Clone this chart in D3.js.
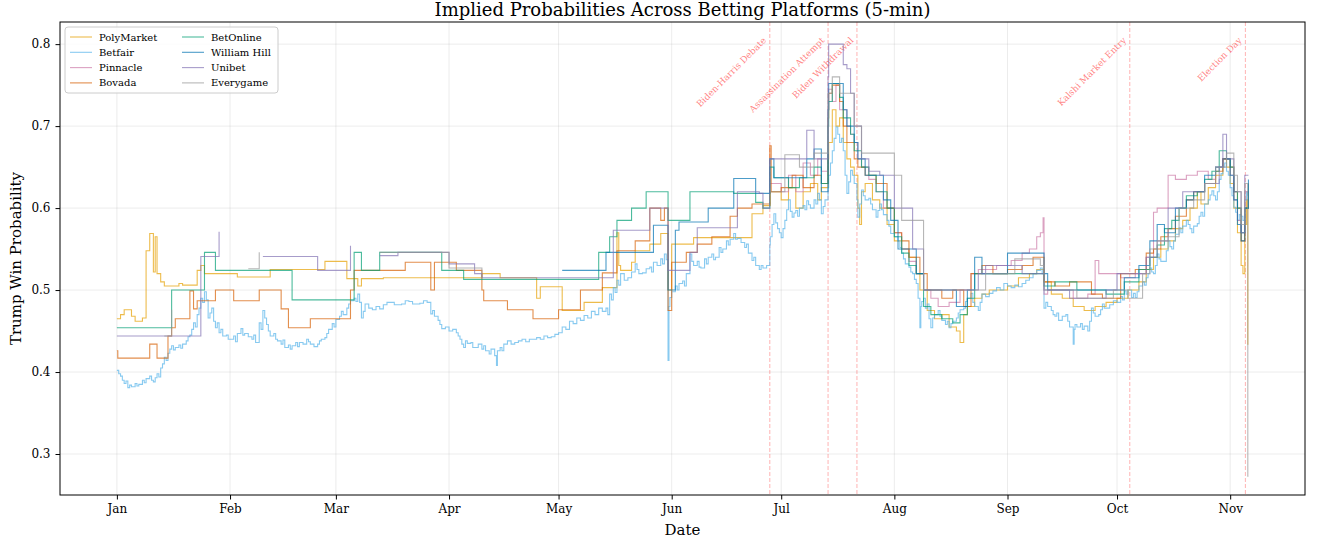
<!DOCTYPE html>
<meta charset="utf-8">
<style>
body { margin: 0; background: #fff; }
text { font-family: "DejaVu Serif", serif; }
.grid line { stroke: #b0b0b0; stroke-opacity: 0.3; stroke-width: 0.8px; }
.axis path, .axis line { stroke: #000; }
</style>
<svg width="1318" height="544"></svg>
<script src="https://d3js.org/d3.v7.min.js"></script>
<script>

var svg = d3.select("svg"),
    width = +svg.attr("width"),
    height = +svg.attr("height");

var margin = {top: 22, right: 13, bottom: 49, left: 60};
var w = width - margin.left - margin.right,
    h = height - margin.top - margin.bottom;

// platforms in legend order
var platforms = ["PolyMarket", "Betfair", "Pinnacle", "Bovada", "BetOnline", "William Hill", "Unibet", "Everygame"];
var colors = ["#E69F00", "#56B4E9", "#CC79A7", "#D55E00", "#009E73", "#0072B2", "#8172B3", "#999999"];

var events = ["Biden-Harris Debate", "Assassination Attempt", "Biden Withdrawal", "Kalshi Market Entry", "Election Day"];
var eventDates = ["06-27T21", "07-13T20", "07-21T18", "10-04T12", "11-05T04"];

var yTicks = [0.3, 0.4, 0.5, 0.6, 0.7, 0.8];

// [date (2024), implied probability]; null = no quote
var polymarket = [["01-01",0.465],["01-02",0.47],["01-03",0.476],["01-05",0.468],["01-06",0.462],["01-08",0.466],["01-09",0.548],["01-10",0.569],["01-11",0.522],["01-11T12",0.565],["01-12",0.52],["01-13",0.51],["01-14",0.505],["01-18",0.508],["01-19",0.506],["01-23",0.524],["01-24",0.53],["01-25",0.52],["02-03",0.516],["02-12",0.525],["02-27",0.535],["03-04",0.514],["03-07",0.505],["03-08",0.514],["03-14",0.515],["04-10",0.52],["04-15",0.515],["04-25",0.49],["04-26",0.504],["05-02",0.475],["05-08",0.485],["05-13",0.503],["05-17",0.57],["05-17T12",0.53],["05-18",0.524],["05-21",0.534],["05-22",0.548],["05-26",0.556],["05-29",0.569],["05-31",0.50],["06-01",0.556],["06-07",0.564],["06-23",0.593],["06-26",0.603],["06-28",0.62],["07-01",0.61],["07-03",0.625],["07-05",0.60],["07-07",0.62],["07-09",0.63],["07-11",0.61],["07-12",0.625],["07-13T20",0.66],["07-14",0.68],["07-15",0.72],["07-16",0.70],["07-17",0.71],["07-18",0.68],["07-19",0.66],["07-20",0.65],["07-21",0.64],["07-22",0.60],["07-22T12",0.58],["07-23",0.62],["07-24",0.63],["07-26",0.61],["07-28",0.60],["07-30",0.58],["08-01",0.56],["08-03",0.55],["08-05",0.54],["08-07",0.52],["08-08",0.50],["08-10",0.475],["08-12",0.465],["08-14",0.47],["08-16",0.455],["08-18",0.45],["08-19",0.436],["08-20",0.47],["08-21",0.48],["08-23",0.49],["08-25",0.495],["08-27",0.50],["09-01",0.505],["09-04",0.515],["09-07",0.52],["09-09",0.525],["09-11",0.51],["09-13",0.495],["09-16",0.49],["09-19",0.48],["09-22",0.475],["09-25",0.48],["09-28",0.485],["10-01",0.49],["10-04",0.50],["10-07",0.51],["10-09",0.525],["10-11",0.54],["10-13",0.55],["10-15",0.56],["10-17",0.575],["10-19",0.585],["10-21",0.60],["10-23",0.62],["10-24",0.605],["10-26",0.625],["10-28",0.64],["10-30",0.66],["10-31",0.65],["11-01",0.63],["11-02",0.60],["11-03",0.57],["11-04",0.53],["11-04T12",0.52],["11-05",0.58],["11-05T12",0.61],["11-05T20",0.434],["11-06",0.434]];

var betfair = [["01-01",0.402],["01-01T12",0.398],["01-02",0.395],["01-02T12",0.39],["01-03",0.386],["01-03T12",0.389],["01-04",0.381],["01-04T12",0.384],["01-05",0.382],["01-06",0.386],["01-06T12",0.383],["01-07",0.385],["01-08",0.39],["01-08T12",0.387],["01-09",0.392],["01-10",0.395],["01-10T12",0.39],["01-11",0.388],["01-11T12",0.393],["01-12",0.398],["01-12T12",0.394],["01-13",0.405],["01-13T12",0.41],["01-14",0.418],["01-14T12",0.414],["01-15",0.423],["01-15T12",0.428],["01-16",0.432],["01-16T12",0.427],["01-17",0.43],["01-18",0.433],["01-18T12",0.429],["01-19",0.434],["01-20",0.438],["01-20T12",0.443],["01-21",0.445],["01-21T12",0.452],["01-22",0.46],["01-22T12",0.455],["01-23",0.47],["01-23T12",0.478],["01-24",0.49],["01-24T12",0.485],["01-25",0.498],["01-25T12",0.488],["01-26",0.466],["01-26T12",0.472],["01-27",0.478],["01-27T12",0.462],["01-28",0.454],["01-28T12",0.46],["01-29",0.448],["01-29T12",0.452],["01-30",0.444],["01-31",0.445],["01-31T12",0.44],["02-01",0.44],["02-02",0.444],["02-02T12",0.437],["02-03",0.447],["02-04",0.453],["02-04T12",0.445],["02-05",0.447],["02-06",0.443],["02-07",0.44],["02-07T12",0.445],["02-08",0.436],["02-09",0.46],["02-09T12",0.452],["02-10",0.475],["02-10T12",0.466],["02-11",0.458],["02-11T12",0.45],["02-12",0.444],["02-13",0.447],["02-13T12",0.44],["02-14",0.438],["02-15",0.434],["02-15T12",0.439],["02-16",0.43],["02-17",0.433],["02-17T12",0.428],["02-18",0.432],["02-19",0.436],["02-19T12",0.431],["02-20",0.436],["02-21",0.434],["02-22",0.44],["02-22T12",0.437],["02-23",0.434],["02-24",0.431],["02-25",0.434],["02-25T12",0.438],["02-26",0.44],["02-27",0.442],["02-27T12",0.447],["02-28",0.452],["02-29",0.459],["02-29T12",0.455],["03-01",0.464],["03-02",0.468],["03-02T12",0.474],["03-03",0.47],["03-04",0.478],["03-04T12",0.483],["03-05",0.487],["03-06",0.49],["03-06T12",0.486],["03-07",0.495],["03-07T12",0.485],["03-08",0.466],["03-08T12",0.474],["03-09",0.483],["03-10",0.478],["03-11",0.476],["03-12",0.48],["03-13",0.477],["03-14",0.482],["03-15",0.485],["03-16",0.485],["03-17",0.482],["03-19",0.483],["03-20",0.487],["03-21",0.486],["03-22",0.483],["03-24",0.484],["03-25",0.487],["03-26",0.485],["03-27",0.471],["03-27T12",0.475],["03-28",0.468],["03-29",0.463],["03-29T12",0.458],["03-30",0.453],["03-31",0.455],["04-01",0.45],["04-02",0.452],["04-03",0.448],["04-03T12",0.444],["04-04",0.44],["04-04T12",0.434],["04-05",0.43],["04-05T12",0.438],["04-06",0.435],["04-07",0.436],["04-07T12",0.43],["04-08",0.43],["04-09",0.434],["04-10",0.428],["04-10T12",0.432],["04-11",0.426],["04-12",0.422],["04-12T12",0.428],["04-13",0.428],["04-13T12",0.42],["04-14",0.408],["04-14T06",0.426],["04-15",0.43],["04-15T12",0.426],["04-16",0.434],["04-17",0.438],["04-18",0.434],["04-19",0.436],["04-20",0.438],["04-21",0.44],["04-22",0.437],["04-23",0.44],["04-25",0.442],["04-26",0.44],["04-27",0.444],["04-28",0.442],["04-29",0.443],["04-30",0.446],["05-01",0.448],["05-02",0.455],["05-03",0.452],["05-04",0.462],["05-05",0.459],["05-06",0.466],["05-07",0.463],["05-08",0.469],["05-09",0.466],["05-10",0.474],["05-11",0.47],["05-12",0.478],["05-13",0.474],["05-14",0.478],["05-14T12",0.47],["05-15",0.495],["05-15T12",0.488],["05-16",0.503],["05-16T12",0.497],["05-17",0.512],["05-17T12",0.506],["05-18",0.52],["05-19",0.512],["05-20",0.515],["05-21",0.522],["05-22",0.532],["05-22T12",0.525],["05-23",0.52],["05-24",0.521],["05-25",0.526],["05-26",0.528],["05-26T12",0.522],["05-27",0.534],["05-28",0.53],["05-29",0.538],["05-29T12",0.532],["05-30",0.544],["05-30T12",0.537],["05-31",0.414],["05-31T06",0.48],["05-31T12",0.491],["06-01",0.498],["06-02",0.505],["06-02T12",0.5],["06-03",0.508],["06-04",0.511],["06-04T12",0.505],["06-05",0.52],["06-06",0.544],["06-06T12",0.535],["06-07",0.53],["06-08",0.535],["06-08T12",0.528],["06-09",0.527],["06-10",0.538],["06-10T12",0.532],["06-11",0.54],["06-12",0.544],["06-12T12",0.537],["06-13",0.54],["06-14",0.552],["06-14T12",0.546],["06-15",0.55],["06-16",0.56],["06-16T12",0.555],["06-17",0.562],["06-18",0.569],["06-18T12",0.562],["06-19",0.563],["06-20",0.558],["06-21",0.552],["06-21T12",0.556],["06-22",0.545],["06-23",0.536],["06-23T12",0.54],["06-24",0.53],["06-25",0.525],["06-25T12",0.53],["06-26",0.527],["06-27",0.53],["06-27T21",0.555],["06-28",0.565],["06-28T12",0.58],["06-29",0.593],["06-29T12",0.582],["06-30",0.575],["06-30T12",0.57],["07-01",0.564],["07-01T12",0.575],["07-02",0.585],["07-02T12",0.598],["07-03",0.61],["07-03T12",0.596],["07-04",0.589],["07-04T12",0.594],["07-05",0.597],["07-05T12",0.59],["07-06",0.60],["07-07",0.603],["07-07T12",0.598],["07-08",0.609],["07-08T12",0.604],["07-09",0.60],["07-10",0.61],["07-10T12",0.605],["07-11",0.618],["07-11T12",0.61],["07-12",0.593],["07-12T12",0.602],["07-13",0.61],["07-13T20",0.625],["07-14",0.64],["07-14T12",0.655],["07-15",0.67],["07-15T12",0.685],["07-16",0.699],["07-16T12",0.69],["07-17",0.68],["07-17T12",0.685],["07-18",0.67],["07-18T12",0.64],["07-19",0.618],["07-19T12",0.632],["07-20",0.646],["07-20T12",0.64],["07-21",0.63],["07-21T18",0.61],["07-22",0.589],["07-22T12",0.605],["07-23",0.622],["07-23T12",0.615],["07-24",0.61],["07-25",0.612],["07-25T12",0.605],["07-26",0.598],["07-27",0.589],["07-27T12",0.597],["07-28",0.605],["07-28T12",0.598],["07-29",0.592],["07-30",0.585],["07-30T12",0.578],["07-31",0.569],["08-01",0.565],["08-02",0.56],["08-02T12",0.552],["08-03",0.545],["08-03T12",0.538],["08-04",0.532],["08-05",0.528],["08-05T12",0.522],["08-06",0.52],["08-06T12",0.513],["08-07",0.508],["08-07T12",0.49],["08-08",0.454],["08-08T06",0.48],["08-08T12",0.486],["08-09",0.49],["08-09T12",0.478],["08-10",0.483],["08-10T12",0.465],["08-11",0.454],["08-11T12",0.466],["08-12",0.47],["08-13",0.475],["08-13T12",0.468],["08-14",0.463],["08-15",0.458],["08-15T12",0.462],["08-16",0.454],["08-16T12",0.459],["08-17",0.462],["08-18",0.466],["08-18T12",0.472],["08-19",0.476],["08-20",0.478],["08-20T12",0.486],["08-21",0.49],["08-22",0.496],["08-22T12",0.485],["08-23",0.48],["08-24",0.475],["08-24T12",0.485],["08-25",0.495],["08-26",0.492],["08-27",0.496],["08-28",0.499],["08-29",0.503],["08-30",0.5],["08-31",0.508],["09-01",0.505],["09-02",0.503],["09-03",0.506],["09-04",0.504],["09-05",0.508],["09-06",0.512],["09-07",0.515],["09-08",0.52],["09-09",0.524],["09-10",0.527],["09-10T12",0.52],["09-11",0.478],["09-11T12",0.485],["09-12",0.48],["09-13",0.475],["09-13T12",0.47],["09-14",0.468],["09-14T12",0.472],["09-15",0.463],["09-16",0.468],["09-17",0.47],["09-17T12",0.462],["09-18",0.455],["09-19",0.434],["09-19T06",0.452],["09-19T12",0.458],["09-20",0.455],["09-21",0.459],["09-21T12",0.452],["09-22",0.456],["09-23",0.45],["09-23T12",0.462],["09-24",0.478],["09-24T12",0.472],["09-25",0.468],["09-26",0.47],["09-26T12",0.476],["09-27",0.483],["09-27T12",0.478],["09-28",0.478],["09-29",0.482],["09-30",0.487],["10-01",0.485],["10-02",0.492],["10-02T12",0.488],["10-03",0.499],["10-03T12",0.495],["10-04",0.5],["10-05",0.491],["10-05T12",0.496],["10-06",0.491],["10-06T12",0.498],["10-07",0.505],["10-08",0.51],["10-08T12",0.506],["10-09",0.515],["10-09T12",0.52],["10-10",0.527],["10-10T12",0.522],["10-11",0.52],["10-11T12",0.53],["10-12",0.544],["10-12T12",0.538],["10-13",0.535],["10-14",0.535],["10-14T12",0.548],["10-15",0.56],["10-15T12",0.553],["10-16",0.55],["10-16T12",0.56],["10-17",0.568],["10-18",0.576],["10-18T12",0.57],["10-19",0.578],["10-20",0.585],["10-20T12",0.58],["10-21",0.575],["10-21T12",0.57],["10-22",0.578],["10-23",0.581],["10-23T12",0.59],["10-24",0.595],["10-24T12",0.59],["10-25",0.605],["10-26",0.61],["10-26T12",0.616],["10-27",0.621],["10-27T12",0.615],["10-28",0.61],["10-28T12",0.62],["10-29",0.635],["10-29T12",0.642],["10-30",0.65],["10-30T12",0.655],["10-31",0.645],["10-31T12",0.64],["11-01",0.625],["11-01T12",0.615],["11-02",0.601],["11-02T12",0.595],["11-03",0.585],["11-03T12",0.592],["11-04",0.59],["11-04T12",0.585],["11-05",0.61],["11-05T12",0.62],["11-05T20",0.615]];

var pinnacle = [["06-28",0.63],["07-01",0.62],["07-03",0.64],["07-05",0.62],["07-07",0.655],["07-09",0.64],["07-11",0.66],["07-12",0.645],["07-13T20",0.72],["07-14",0.745],["07-15",0.73],["07-16",0.75],["07-17",0.72],["07-19",0.70],["07-20",0.69],["07-21",0.68],["07-22",0.66],["07-23",0.65],["07-25",0.635],["07-27",0.62],["07-29",0.60],["08-01",0.57],["08-03",0.55],["08-05",0.535],["08-07",0.52],["08-09",0.50],["08-11",0.49],["08-13",0.48],["08-16",0.485],["08-19",0.50],["08-22",0.52],["08-24",0.525],["08-29",0.53],["09-02",0.536],["09-05",0.545],["09-07",0.55],["09-09",0.565],["09-10",0.57],["09-10T18",0.588],["09-11",0.495],["09-12",0.50],["09-17",0.50],["09-19",0.49],["09-23",0.495],["09-25",0.536],["09-26",0.52],["10-02",0.515],["10-06",0.52],["10-09",0.54],["10-11",0.595],["10-12",0.60],["10-15",0.64],["10-17",0.635],["10-20",0.64],["10-23",0.645],["10-26",0.635],["10-28",0.65],["10-30",0.66],["11-01",0.64],["11-02",0.61],["11-03",0.585],["11-04",0.57],["11-05",0.62],["11-06",0.63]];

var bovada = [["01-01",0.426],["01-01T06",0.417],["01-10",0.434],["01-12",0.417],["01-15",0.444],["01-16",0.454],["01-17",0.465],["01-21",0.499],["01-22",0.477],["01-23",0.487],["01-28",0.50],["02-02",0.487],["02-09",0.50],["02-15",0.477],["02-17",0.454],["02-23",0.465],["03-05",0.50],["03-06",0.524],["03-20",0.534],["03-27",0.50],["03-28",0.534],["04-03",0.524],["04-10",0.50],["04-10T12",0.487],["04-17",0.476],["04-24",0.465],["05-01",0.476],["05-07",0.50],["05-13",0.521],["05-17",0.548],["05-22",0.56],["05-26",0.60],["05-29",0.585],["05-30",0.60],["05-31",0.475],["06-01",0.534],["06-05",0.546],["06-08",0.556],["06-12",0.565],["06-17",0.59],["06-19",0.60],["06-23",0.605],["06-27T21",0.676],["06-28T06",0.62],["07-01",0.625],["07-04",0.64],["07-07",0.625],["07-10",0.64],["07-12",0.63],["07-13T20",0.71],["07-14",0.74],["07-15",0.75],["07-17",0.73],["07-18",0.70],["07-19",0.68],["07-21",0.66],["07-22",0.65],["07-24",0.64],["07-27",0.63],["07-30",0.60],["08-01",0.57],["08-03",0.56],["08-05",0.54],["08-08",0.52],["08-10",0.50],["08-14",0.49],["08-17",0.50],["08-20",0.48],["08-22",0.52],["08-25",0.53],["08-28",0.52],["09-01",0.525],["09-05",0.53],["09-08",0.54],["09-11",0.51],["09-14",0.505],["09-18",0.51],["09-24",0.495],["09-27",0.49],["10-02",0.52],["10-06",0.525],["10-09",0.545],["10-11",0.55],["10-13",0.565],["10-15",0.575],["10-17",0.59],["10-20",0.61],["10-22",0.62],["10-25",0.63],["10-28",0.645],["10-30",0.66],["11-01",0.65],["11-02",0.62],["11-03",0.60],["11-04",0.56],["11-05",0.60],["11-06",0.62]];

var betonline = [["01-01",0.454],["01-16",0.50],["01-25",0.546],["01-28",0.524],["02-18",0.488],["03-06",0.546],["03-08",0.524],["03-13",0.546],["03-30",0.524],["04-05",0.513],["05-12",0.546],["05-15",0.565],["05-17",0.585],["05-21",0.60],["05-25",0.62],["05-31",0.585],["06-06",0.62],["06-18",0.618],["06-24",0.607],["06-26",0.60],["06-27T21",0.65],["06-29",0.637],["07-03",0.625],["07-06",0.637],["07-10",0.65],["07-12",0.63],["07-13T20",0.70],["07-14",0.73],["07-15",0.752],["07-17",0.735],["07-18",0.71],["07-20",0.69],["07-21",0.67],["07-23",0.65],["07-25",0.64],["07-27",0.62],["07-30",0.60],["08-01",0.565],["08-03",0.545],["08-05",0.53],["08-07",0.52],["08-09",0.48],["08-11",0.47],["08-14",0.465],["08-17",0.46],["08-19",0.47],["08-21",0.49],["08-23",0.52],["09-10",0.52],["09-11",0.505],["09-14",0.51],["09-20",0.50],["09-28",0.495],["10-03",0.51],["10-07",0.525],["10-10",0.54],["10-12",0.555],["10-14",0.575],["10-16",0.585],["10-18",0.60],["10-20",0.615],["10-23",0.62],["10-25",0.635],["10-27",0.645],["10-29",0.67],["10-31",0.66],["11-01",0.65],["11-02",0.62],["11-03",0.60],["11-04",0.57],["11-05",0.60],["11-06",0.63]];

var williamhill = [["05-02",0.524],["05-14",0.546],["05-23",0.546],["05-27",0.579],["05-31",0.50],["06-02",0.573],["06-03",0.583],["06-11",0.60],["06-18",0.636],["06-24",0.618],["06-27T21",0.66],["06-29",0.637],["07-08",0.66],["07-10",0.672],["07-12",0.62],["07-13T20",0.72],["07-14",0.752],["07-16",0.752],["07-18",0.72],["07-19",0.70],["07-21",0.68],["07-22",0.66],["07-24",0.64],["07-27",0.64],["07-29",0.61],["07-31",0.585],["08-02",0.55],["08-05",0.55],["08-07",0.52],["08-09",0.50],["08-15",0.50],["08-18",0.48],["08-21",0.50],["08-23",0.54],["08-25",0.52],["08-30",0.52],["09-01",0.545],["09-11",0.52],["09-12",0.50],["09-30",0.50],["10-03",0.515],["10-07",0.53],["10-10",0.56],["10-12",0.58],["10-14",0.57],["10-17",0.60],["10-20",0.61],["10-22",0.62],["10-25",0.64],["10-28",0.65],["10-30",0.66],["11-01",0.64],["11-02",0.61],["11-03",0.58],["11-04",0.56],["11-05",0.60],["11-06",0.635]];

var unibet = [["01-01",0.444],["01-24",0.541],["01-29",0.571],["02-03",null],["02-10",0.541],["02-25",0.524],["03-05",0.554],["03-12",null],["03-13",0.542],["03-18",0.546],["04-01",0.532],["04-08",0.52],["04-10",0.515],["05-16",0.573],["05-26",0.60],["05-31",0.524],["06-06",0.546],["06-08",0.576],["06-19",0.62],["06-25",0.618],["06-26",0.60],["06-27T21",0.66],["07-05",0.66],["07-08",0.695],["07-10",0.66],["07-13T20",0.76],["07-14",0.80],["07-18",0.775],["07-19",0.77],["07-20",0.74],["07-21",0.70],["07-23",0.66],["07-25",0.645],["07-28",0.64],["08-01",0.60],["08-05",0.60],["08-06",0.55],["08-09",0.50],["08-24",0.52],["08-26",0.53],["09-05",0.52],["09-11",0.50],["09-18",0.49],["09-28",0.50],["10-01",0.52],["10-05",0.52],["10-09",0.54],["10-12",0.56],["10-15",0.60],["10-19",0.62],["10-25",0.63],["10-29",0.65],["10-30",0.69],["10-31",0.66],["11-02",0.62],["11-04",0.57],["11-05",0.64],["11-06",0.64]];

var everygame = [["01-14",0.444],["01-16",0.476],["01-19",null],["01-24",0.546],["01-25",null],["01-31",0.546],["02-04",null],["02-06",0.526],["02-09",0.546],["02-25",null],["03-05",0.546],["03-12",null],["03-13",0.546],["04-01",0.527],["04-10",0.515],["05-16",null],["05-21",0.568],["05-26",null],["06-28",0.62],["07-02",0.665],["07-06",0.65],["07-10",0.667],["07-13T20",0.74],["07-15",0.76],["07-17",0.74],["07-21",0.70],["07-23",0.667],["08-01",0.64],["08-03",0.585],["08-09",0.50],["08-26",0.52],["09-03",0.538],["09-10",0.53],["09-11",0.50],["09-20",0.49],["09-30",0.50],["10-04",0.49],["10-08",0.52],["10-10",0.55],["10-12",0.56],["10-15",0.565],["10-18",0.60],["10-22",0.61],["10-25",0.63],["10-28",0.65],["10-31",0.667],["11-02",0.64],["11-03",0.62],["11-04",0.58],["11-05",0.63],["11-05T20",0.273],["11-06",0.273]];

var seriesData = [polymarket, betfair, pinnacle, bovada, betonline, williamhill, unibet, everygame];

var parseDay = function(s) {
  var full = "2024-" + s + (s.length > 5 ? ":00" : "T00:00");
  return d3.utcParse("%Y-%m-%dT%H:%M")(full);
};

var x = d3.scaleUtc()
    .domain([new Date(Date.UTC(2023, 11, 16, 10)), new Date(Date.UTC(2024, 10, 21, 12))])
    .range([0, w]);

var y = d3.scaleLinear()
    .domain([0.25, 0.827])
    .range([h, 0]);

var g = svg.append("g")
    .attr("transform", "translate(" + margin.left + "," + margin.top + ")");

// grid
var months = d3.utcMonth.range(new Date(Date.UTC(2024, 0, 1)), new Date(Date.UTC(2024, 10, 2)));
g.append("g").attr("class", "grid")
  .selectAll("line.v").data(months).enter().append("line")
    .attr("x1", function(d) { return x(d); }).attr("x2", function(d) { return x(d); })
    .attr("y1", 0).attr("y2", h);
g.append("g").attr("class", "grid")
  .selectAll("line.h").data(yTicks).enter().append("line")
    .attr("x1", 0).attr("x2", w)
    .attr("y1", function(d) { return y(d); }).attr("y2", function(d) { return y(d); });

// event lines
var evG = g.append("g");
events.forEach(function(name, i) {
  var ex = x(parseDay(eventDates[i]));
  evG.append("line")
      .attr("x1", ex).attr("x2", ex).attr("y1", 0).attr("y2", h)
      .attr("stroke", "red").attr("stroke-opacity", 0.3)
      .attr("stroke-width", 1).attr("stroke-dasharray", "4,2");
  evG.append("text")
      .attr("transform", "translate(" + (ex - 3) + "," + 19 + ") rotate(-45)")
      .attr("text-anchor", "end")
      .attr("font-size", "9px")
      .attr("fill", "red").attr("fill-opacity", 0.5)
      .text(name);
});

// series
var line = d3.line()
    .defined(function(d) { return d[1] != null; })
    .curve(d3.curveStepAfter)
    .x(function(d) { return x(parseDay(d[0])); })
    .y(function(d) { return y(d[1]); });

var clip = g.append("clipPath").attr("id", "clip")
  .append("rect").attr("width", w).attr("height", h);

g.append("g").attr("clip-path", "url(#clip)")
  .selectAll("path").data(seriesData).enter().append("path")
    .attr("d", line)
    .attr("fill", "none")
    .attr("stroke", function(d, i) { return colors[i]; })
    .attr("stroke-opacity", 0.7)
    .attr("stroke-width", 1.1);

// axes
var xAxis = g.append("g").attr("class", "axis")
    .attr("transform", "translate(0," + h + ")")
    .call(d3.axisBottom(x).tickValues(months).tickFormat(d3.utcFormat("%b")).tickSizeOuter(0).tickSize(4.5).tickPadding(5));
var yAxis = g.append("g").attr("class", "axis")
    .call(d3.axisLeft(y).tickValues(yTicks).tickFormat(d3.format(".1f")).tickSizeOuter(0).tickSize(4.5).tickPadding(5));
svg.selectAll(".axis text").attr("font-family", "DejaVu Serif").attr("font-size", "12px").attr("fill", "#000");
svg.selectAll(".axis .domain").remove();

// frame
g.append("rect").attr("width", w).attr("height", h)
    .attr("fill", "none").attr("stroke", "#000").attr("stroke-width", 1);

// titles
svg.append("text")
    .attr("x", margin.left + w / 2).attr("y", 16)
    .attr("text-anchor", "middle").attr("font-size", "18px")
    .text("Implied Probabilities Across Betting Platforms (5-min)");
svg.append("text")
    .attr("x", margin.left + w / 2).attr("y", 535)
    .attr("text-anchor", "middle").attr("font-size", "15px")
    .text("Date");
svg.append("text")
    .attr("transform", "translate(21," + (margin.top + h / 2) + ") rotate(-90)")
    .attr("text-anchor", "middle").attr("font-size", "15px")
    .text("Trump Win Probability");

// legend
var leg = g.append("g").attr("transform", "translate(5,5)");
leg.append("rect").attr("width", 213).attr("height", 66).attr("rx", 3)
    .attr("fill", "#fff").attr("fill-opacity", 0.8)
    .attr("stroke", "#ccc").attr("stroke-width", 1);
platforms.forEach(function(p, i) {
  var col = Math.floor(i / 4), row = i % 4;
  var lx = 5 + col * 112, ly = 10 + row * 15.3;
  leg.append("line").attr("x1", lx).attr("x2", lx + 22).attr("y1", ly).attr("y2", ly)
      .attr("stroke", colors[i]).attr("stroke-opacity", 0.7).attr("stroke-width", 1.1);
  leg.append("text").attr("x", lx + 29).attr("y", ly + 3.5)
      .attr("font-size", "10px").text(p);
});

</script>
